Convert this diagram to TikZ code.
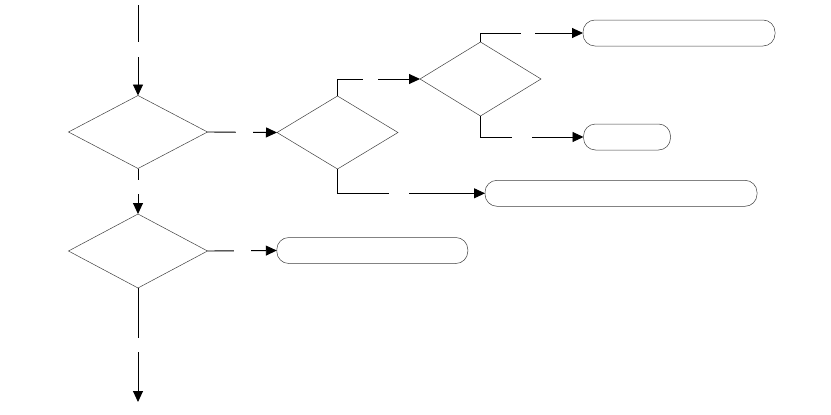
\documentclass[tikz,border=0pt]{standalone}
\usetikzlibrary{shapes.geometric,arrows.meta}
\begin{document}
\begin{tikzpicture}[x=1pt,y=-1pt] % схема
\tikzstyle{mydiam} = [diamond, draw=black!75, line width=0.5pt, inner sep=0pt, outer sep=0pt] % decision node style
\tikzstyle{mybox} = [rectangle, rounded corners=12pt, draw=black!75, line width=0.5pt, minimum height=26pt, inner sep=0pt, outer sep=0pt] % terminal node style
\tikzstyle{myarrow} = [line width=0.9pt, -{Triangle[length=11pt,width=10pt]}] % соединительная стрелка
\tikzstyle{mygap} = [fill=white, inner sep=0pt, minimum width=15pt, minimum height=15pt] % пустая подпись на стрелке

\useasboundingbox (0,0) rectangle (831,415);

% ромбы
\node[mydiam, minimum width=139pt, minimum height=73pt] (d1) at (138,132) {};
\node[mydiam, minimum width=121pt, minimum height=73pt] (d2) at (337.5,132.5) {};
\node[mydiam, minimum width=121pt, minimum height=74pt] (d3) at (480.5,79) {};
\node[mydiam, minimum width=139pt, minimum height=74pt] (d4) at (138,251) {};

% концевые блоки
\node[mybox, minimum width=192pt] (b1) at (679,33) {};
\node[mybox, minimum width=87pt] (b2) at (627,137) {};
\node[mybox, minimum width=272pt] (b3) at (621,193.3) {};
\node[mybox, minimum width=191pt] (b4) at (372.3,250.5) {};

\coordinate (in) at (138,5);
\coordinate (out) at (138,402);

% стрелки
\draw[myarrow] (in) -- node[mygap, pos=0.49] {} (d1.north);
\draw[myarrow] (d1.east) -- node[mygap, pos=0.53, minimum width=17pt] {} (d2.west);
\draw[myarrow] (d2.north) |- node[mygap, pos=0.7] {} (d3.west);
\draw[myarrow] (d3.north) |- node[mygap, pos=0.73, minimum width=14pt] {} (b1.west);
\draw[myarrow] (d3.south) |- node[mygap, pos=0.70, minimum width=20pt] {} (b2.west);
\draw[myarrow] (d2.south) |- node[mygap, pos=0.71, minimum width=20pt] {} (b3.west);
\draw[myarrow] (d1.south) -- node[mygap, pos=0.41, minimum height=14pt] {} (d4.north);
\draw[myarrow] (d4.east) -- node[mygap, pos=0.5, minimum width=17pt] {} (b4.west);
\draw[myarrow] (d4.south) -- node[mygap, pos=0.5, minimum height=14pt] {} (out);
\end{tikzpicture}
\end{document}
